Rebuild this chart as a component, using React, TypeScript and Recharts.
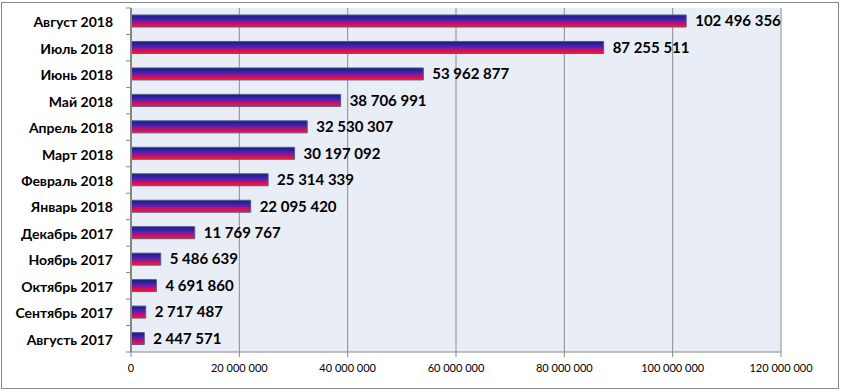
import { BarChart, Bar, XAxis, YAxis, CartesianGrid, LabelList } from 'recharts'

document.body.style.margin = '0'

const months = [
  'Август 2018',
  'Июль 2018',
  'Июнь 2018',
  'Май 2018',
  'Апрель 2018',
  'Март 2018',
  'Февраль 2018',
  'Январь 2018',
  'Декабрь 2017',
  'Ноябрь 2017',
  'Октябрь 2017',
  'Сентябрь 2017',
  'Августь 2017',
]

const amounts = [
  102496356, 87255511, 53962877, 38706991, 32530307, 30197092, 25314339,
  22095420, 11769767, 5486639, 4691860, 2717487, 2447571,
]

const xTicks = [0, 20000000, 40000000, 60000000, 80000000, 100000000, 120000000]

const data = months.map((m, i) => ({ month: m, value: amounts[i] }))

const fmt = (v: number) => String(v).replace(/\B(?=(\d{3})+(?!\d))/g, ' ')

const FONT = 'Lato, "Open Sans", sans-serif'
const BAND = 344 / months.length

function MonthTick(props: any) {
  const { x, y, payload, index } = props
  return (
    <g>
      <line x1={x + 3} x2={x + 8} y1={y - BAND / 2} y2={y - BAND / 2} stroke="#868686" />
      {index === months.length - 1 && (
        <line x1={x + 3} x2={x + 8} y1={y + BAND / 2} y2={y + BAND / 2} stroke="#868686" />
      )}
      <text
        x={x - 10}
        y={y}
        dy={6}
        textAnchor="end"
        fontFamily={FONT}
        fontWeight={700}
        fontSize={14}
        fill="#000"
      >
        {payload.value}
      </text>
    </g>
  )
}

export default function App() {
  return (
    <div style={{ position: 'relative', width: 841, height: 392, background: '#fff' }}>
      <div
        style={{
          position: 'absolute',
          left: 1,
          top: 2,
          width: 836,
          height: 385,
          border: '1px solid #888',
        }}
      />
      <BarChart
        width={841}
        height={392}
        data={data}
        layout="vertical"
        margin={{ top: 8, right: 60, bottom: 10, left: 0 }}
        barSize={12}
        style={{ position: 'absolute', left: 0, top: 0 }}
      >
        <defs>
          <linearGradient id="barFill" x1="0" y1="0" x2="0" y2="1">
            <stop offset="0%" stopColor="#1c1c78" />
            <stop offset="25%" stopColor="#2a23a8" />
            <stop offset="55%" stopColor="#7f1aa0" />
            <stop offset="80%" stopColor="#e0104a" />
            <stop offset="100%" stopColor="#ff1530" />
          </linearGradient>
        </defs>
        <CartesianGrid horizontal={false} fill="#e9edf5" stroke="#8c8c8c" strokeWidth={1} />
        <XAxis
          type="number"
          domain={[0, 120000000]}
          ticks={xTicks}
          tickFormatter={fmt}
          tick={{ fontSize: 11, fill: '#000', fontFamily: FONT }}
          axisLine={{ stroke: '#868686' }}
          tickLine={{ stroke: '#868686' }}
          tickSize={5}
          tickMargin={7}
          height={30}
          interval={0}
        />
        <YAxis
          type="category"
          dataKey="month"
          width={131}
          tick={<MonthTick />}
          tickLine={false}
          axisLine={{ stroke: '#868686', strokeWidth: 2 }}
          interval={0}
        />
        <Bar
          dataKey="value"
          fill="url(#barFill)"
          stroke="#545b8c"
          strokeWidth={1}
          isAnimationActive={false}
        >
          <LabelList
            dataKey="value"
            position="right"
            offset={9}
            formatter={(v: any) => fmt(Number(v))}
            style={{ fontSize: 15, fontWeight: 700, fill: '#000', fontFamily: FONT }}
          />
        </Bar>
      </BarChart>
    </div>
  )
}
